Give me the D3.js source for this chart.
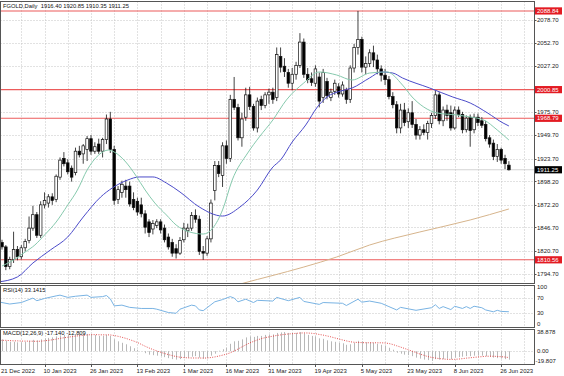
<!DOCTYPE html>
<html><head><meta charset="utf-8">
<script src="https://cdn.jsdelivr.net/npm/d3@7"></script>
<style>
html,body{margin:0;padding:0;background:#fff;}
svg{display:block;font-family:"Liberation Sans",Arial,sans-serif;}
text{white-space:pre;}
</style></head><body>
<svg id="c" width="564" height="376"></svg>
<script>
// ---------------- DATA ----------------
const symbolTitle = "FGOLD,Daily  1916.40 1920.85 1910.35 1911.25";
const rsiTitle = "RSI(14) 33.1415";
const macdTitle = "MACD(12,26,9) -17.140 -12.809";
const startDate = "2022-12-21";
const holidays = ["2022-12-26", "2023-01-02", "2023-04-07"];

const open = [1817,1830,1825,1803,1811,1822,1814,1824,1832,1846,
1861,1838,1872,1874,1881,1878,1903,1924,1919,1913,
1908,1932,1929,1934,1946,1932,1940,1932,1945,1968,
1934,1878,1886,1893,1893,1878,1876,1872,1862,1853,
1845,1849,1853,1846,1836,1830,1823,1818,1833,1843,
1846,1860,1856,1820,1818,1834,1888,1916,1905,1938,
1924,1990,1981,1947,1970,1995,1982,1958,1990,1983,
1995,1998,1992,2038,2027,2020,2008,2018,2028,2054,
2018,2013,2008,2015,1992,2010,1992,1999,2004,1996,
2000,1990,2025,2048,2057,2026,2030,2042,2034,2024,
2017,2012,1993,1984,1958,1978,1965,1975,1962,1950,
1956,1953,1963,1972,1995,1966,1978,1975,1958,1978,
1973,1956,1970,1956,1970,1966,1962,1947,1941,1926,
1934,1924,1916.40];
const high = [1833,1833,1827,1814,1842,1826,1827,1834,1859,1871,
1864,1876,1886,1884,1885,1906,1925,1931,1923,1916,
1936,1938,1940,1949,1950,1942,1946,1947,1973,1976,
1938,1893,1899,1900,1898,1886,1880,1880,1866,1856,
1855,1856,1856,1850,1840,1834,1828,1836,1852,1851,
1864,1867,1860,1826,1837,1878,1921,1921,1942,1944,
1995,2015,1985,1975,2003,2004,1985,1992,1994,1998,
2002,2003,2048,2048,2036,2024,2025,2032,2064,2058,
2025,2020,2028,2020,2024,2014,2002,2012,2008,2010,
2003,2028,2052,2088.84,2060,2038,2046,2050,2040,2028,
2024,2016,1998,1988,1985,1986,1980,1988,1968,1960,
1962,1966,1975,2000,1998,1982,1984,1983,1982,1982,
1976,1972,1973,1974,1974,1970,1966,1950,1945,1940,
1936,1928,1920.85];
const low = [1815,1822,1799,1800,1807,1810,1811,1820,1829,1843,
1835,1835,1868,1869,1872,1875,1900,1915,1906,1898,
1905,1925,1918,1921,1928,1929,1929,1925,1940,1930,
1872,1873,1880,1880,1870,1866,1860,1858,1840,1836,
1839,1846,1840,1830,1822,1814,1812,1816,1830,1836,
1843,1852,1816,1810.56,1815,1830,1877,1903,1892,1918,
1920,1978,1944,1937,1966,1978,1955,1953,1978,1980,
1985,1985,1988,2020,2015,2003,2000,2012,2025,2014,
2008,2005,2004,1981,1986,1990,1988,1995,1992,1993,
1985,1986,2020,2040,2020,2018,2026,2026,2018,2010,
2006,1990,1980,1952,1952,1960,1958,1958,1945,1945,
1950,1945,1958,1968,1962,1960,1966,1955,1956,1970,
1952,1953,1937,1952,1960,1958,1943,1936,1922,1920,
1918,1912,1910.35];
const close = [1826,1825,1803,1811,1822,1814,1824,1831,1846,1861,
1838,1872,1877,1881,1877,1904,1922,1918,1909,1903,
1932,1928,1938,1946,1932,1937,1932,1945,1968,1934,
1877,1889,1895,1889,1873,1869,1864,1862,1847,1841,
1851,1853,1844,1833,1825,1818,1818,1832,1846,1846,
1860,1856,1820,1818,1834,1874,1916,1907,1938,1924,
1990,1981,1947,1968,1995,1982,1958,1988,1983,1995,
1998,1990,2040,2026,2021,2008,2018,2028,2054,2018,
2012,2009,2024,1988,2020,1994,1998,2008,1996,2006,
1990,2025,2048,2057,2026,2030,2042,2034,2024,2017,
2012,1993,1984,1958,1978,1964,1975,1962,1950,1956,
1953,1963,1972,1995,1966,1978,1972,1958,1978,1973,
1956,1969,1955,1970,1964,1961,1946,1940,1926,1934,
1922,1918,1911.25];

// moving averages: [bar index, price]
const maFast = [[1,1803.6],[4,1810.4],[7,1819.3],[9.5,1827.1],[12,1838.3],[15,1852.8],[18,1871.9],[20.5,1888.6],[23,1911],[26,1927.8],[28.5,1933.3],[30,1931.1],[33,1919.9],[35.5,1905.4],[38,1888.6],[40.5,1874.1],[43.5,1860.7],[46,1849.5],[49.5,1841.7],[53,1839.4],[55.5,1846.1],[58,1866.3],[60.5,1899.8],[64.5,1930],[67.5,1947.9],[71,1966.9],[74.5,1989.3],[79,2008.3],[83,2020.6],[87.5,2017.2],[91.5,2011.6],[96,2019.4],[100.5,2020.6],[104.5,2006],[107,1992.6],[110,1981.4],[113.5,1974.7],[118.5,1972.5],[122,1970.2],[125.5,1966.9],[129,1955.7],[132,1944.5]];
const maSlow = [[0,1785.8],[5,1791.4],[9,1807],[13.5,1821.5],[18,1836.1],[22,1858.4],[26.5,1880.8],[29.5,1890.9],[33.5,1899.8],[36.5,1903.2],[40,1903.2],[43.5,1896.4],[47,1886.4],[52,1869.6],[58,1859.5],[62.5,1869.6],[67,1888.6],[71,1914.3],[73,1922.2],[76,1942.3],[79.5,1961.3],[82.5,1981.4],[85,1992.6],[88.5,1999.3],[91.5,2002.7],[96,2013.9],[99,2020.6],[102,2019.4],[104.5,2013.9],[111.5,2002.7],[117.5,1992.6],[122,1985.9],[126.5,1974.7],[130.5,1963.5],[132,1960.2]];
const maLong = [[60,1780.2],[63.5,1784.6],[70.5,1792.5],[79,1802.5],[87.5,1813.7],[96,1827.1],[109,1841.7],[122,1855.1],[132,1867.4]];

// RSI(14): [bar index, value]
const rsi = [[0,60],[3,54],[6,58],[9,70],[10,63],[12,69],[15,76],[16,78],[18,72],[20,75],[23,78],[24,72],[27,74],[28,77],[29,68],[30,49],[32,51],[34,45],[37,42],[40,42],[41,40],[44,31],[46,29],[47,40],[50,51],[51,49],[52,38],[53,36],[55,52],[56,60],[58,66],[60,74],[61,70],[62,60],[64,67],[66,58],[67,64],[71,62],[72,72],[75,63],[78,72],[79,61],[83,53],[84,58],[89,56],[90,50],[93,67],[94,59],[96,62],[99,56],[101,47],[103,38],[104,45],[108,37],[112,44],[113,52],[114,42],[115,47],[117,39],[118,48],[120,42],[121,47],[122,42],[123,48],[125,44],[126,38],[128,33],[129,37],[130,34],[132,33.14]];

// MACD main (histogram) and signal, per bar
const macd = [25,24,21,19,19,18,18,19,21,23,
22,24,26,27,28,30,32,33,33,32,
34,34,34,35,34,33,31,31,33,31,
24,20,17,14,10,6,3,0,-4,-7,
-8,-9,-10,-12,-14,-16,-17,-16,-14,-13,
-11,-10,-13,-15,-14,-9,-5,1,4,7,
15,20,21,24,28,30,29,31,31,33,
34,34,37,38,38.878,37,37,37,38.5,36,
33,31,30,26,25,22,20,19,17,16,
13,14,17,21,20,18,18,17,15,13,
11,7,3,-3,-5,-7,-8,-10,-13,-15,
-17,-18,-19.807,-16,-17,-16,-15,-16,-13,-12,
-11,-10,-10,-9,-9,-9,-10,-11,-13,-14,
-15,-16,-17.14];
const macdSignal = [22,22,22,21.5,21,21,20.5,20.5,20.4,20.2,
20.0,20.3,21.1,22.0,23.1,24.4,25.9,27.2,28.3,29.4,
30.6,31.4,32.2,33.0,33.4,33.6,33.3,33.1,33.2,32.9,
31.8,30.2,28.2,26.0,23.4,20.7,17.6,13.9,10.0,6.6,
3.4,0.6,-2.1,-4.6,-6.8,-8.9,-10.8,-12.1,-12.9,-13.4,
-13.7,-13.7,-13.8,-13.9,-13.7,-12.8,-11.6,-9.9,-8.0,-6.0,
-3.2,0.4,4.4,8.7,12.8,16.7,19.8,22.8,25.4,27.4,
29.0,30.4,31.9,33.0,34.0,34.9,35.5,36.2,36.8,37.0,
36.9,36.3,35.4,33.9,32.6,30.9,29.1,26.9,24.8,22.9,
20.9,19.1,18.1,17.7,17.4,17.2,17.1,17.1,17.0,17.0,
16.7,15.6,13.6,11.0,8.4,5.7,2.9,0.1,-2.8,-5.7,
-8.3,-10.7,-12.5,-13.8,-14.9,-15.8,-16.3,-16.6,-16.4,-15.9,
-15.1,-14.0,-13.3,-12.4,-11.7,-11.0,-10.3,-10.1,-10.2,-10.6,
-11.1,-11.8,-12.809];

const priceTicks = ["2078.70","2052.70","2027.20","2001.20","1975.70","1949.70","1923.70","1898.20","1872.20","1846.70","1820.70","1794.70"];
const levelLines = [2088.84, 2000.85, 1968.79, 1810.56];
const levelLabels = ["2088.84", "2000.85", "1968.79", "1810.56"];
const lastPrice = 1911.25;
const lastPriceLabel = "1911.25";
const rsiTicks = ["100", "70", "30", "0"];
const rsiLevels = [70, 30];
const macdTicks = ["38.878", "0.00", "-19.807"];
const dateLabels = [["2022-12-21","21 Dec 2022"],["2023-01-10","10 Jan 2023"],["2023-01-26","26 Jan 2023"],["2023-02-13","13 Feb 2023"],["2023-03-01","1 Mar 2023"],["2023-03-16","16 Mar 2023"],["2023-03-31","31 Mar 2023"],["2023-04-19","19 Apr 2023"],["2023-05-05","5 May 2023"],["2023-05-23","23 May 2023"],["2023-06-08","8 Jun 2023"],["2023-06-26","26 Jun 2023"]];

// ---------------- BUILD ----------------
const N = close.length;
const iso = d3.utcFormat("%Y-%m-%d");
const dates = [];
for (let d = new Date(startDate + "T00:00:00Z"); dates.length < N; d = new Date(d.getTime() + 864e5)) {
  const wd = d.getUTCDay();
  if (wd === 0 || wd === 6 || holidays.includes(iso(d))) continue;
  dates.push(iso(d));
}
const idx = d3.range(N);

const svg = d3.select("#c");
const FS = 6;
const L = 0.5, R = 534.5;
const panels = {main: [1.5, 283.5], rsi: [285.5, 327.5], macd: [329.5, 364.5]};

const x = d3.scaleLinear().domain([0, N - 1]).range([-1.9, 508.9]);
const y = d3.scaleLinear().domain([1794.7, 2078.7]).range([274, 20]);
const yR = d3.scaleLinear().domain([0, 100]).range([324, 287]);
const yM = d3.scaleLinear().domain([-19.807, 38.878]).range([361, 332]);

const defs = svg.append("defs");
Object.entries(panels).forEach(([k, [t, b]]) => {
  defs.append("clipPath").attr("id", "clip-" + k).append("rect")
    .attr("x", L).attr("y", t).attr("width", R - L).attr("height", b - t);
});

// grid verticals (at label bars and midway)
const labelIdx = dateLabels.map(d => dates.indexOf(d[0]));
const gridIdx = [];
labelIdx.forEach((v, k) => {
  gridIdx.push(v);
  if (k < labelIdx.length - 1) gridIdx.push(Math.round((v + labelIdx[k + 1]) / 2));
});
gridIdx.push(labelIdx[labelIdx.length - 1] + 6);

const gridColor = "#c4c4c4";
Object.entries(panels).forEach(([k, [t, b]]) => {
  svg.append("g").attr("clip-path", `url(#clip-${k})`)
    .selectAll("line").data(gridIdx.filter(i => x(i) > 2)).join("line")
    .attr("x1", i => Math.round(x(i)) + 0.5).attr("x2", i => Math.round(x(i)) + 0.5)
    .attr("y1", t).attr("y2", b)
    .attr("stroke", gridColor).attr("stroke-width", 1).attr("stroke-dasharray", "1,2");
});
// horizontal grid
svg.append("g").selectAll("line").data(priceTicks).join("line")
  .attr("x1", L).attr("x2", R)
  .attr("y1", d => Math.round(y(+d)) + 0.5).attr("y2", d => Math.round(y(+d)) + 0.5)
  .attr("stroke", gridColor).attr("stroke-dasharray", "1,2");
svg.append("g").selectAll("line").data(rsiLevels).join("line")
  .attr("x1", L).attr("x2", R)
  .attr("y1", d => Math.round(yR(d)) + 0.5).attr("y2", d => Math.round(yR(d)) + 0.5)
  .attr("stroke", gridColor).attr("stroke-dasharray", "1,2");
svg.append("line").attr("x1", L).attr("x2", R)
  .attr("y1", Math.round(yM(0)) + 0.5).attr("y2", Math.round(yM(0)) + 0.5)
  .attr("stroke", gridColor).attr("stroke-dasharray", "1,2");

// main panel contents
const gm = svg.append("g").attr("clip-path", "url(#clip-main)");
gm.append("line").attr("x1", L).attr("x2", R)
  .attr("y1", y(lastPrice)).attr("y2", y(lastPrice))
  .attr("stroke", "#c8c8c8").attr("stroke-width", 0.8);
gm.selectAll("line.lvl").data(levelLines).join("line").attr("class", "lvl")
  .attr("x1", L).attr("x2", R).attr("y1", d => y(d)).attr("y2", d => y(d))
  .attr("stroke", "#ec5b5b").attr("stroke-width", 1.1);

// candles
gm.selectAll("line.wick").data(idx).join("line").attr("class", "wick")
  .attr("x1", i => x(i)).attr("x2", i => x(i))
  .attr("y1", i => y(high[i])).attr("y2", i => y(low[i]))
  .attr("stroke", "#111").attr("stroke-width", 0.8);
gm.selectAll("rect.body").data(idx).join("rect").attr("class", "body")
  .attr("x", i => x(i) - 1.3).attr("width", 2.6)
  .attr("y", i => y(Math.max(open[i], close[i])))
  .attr("height", i => Math.max(0.7, Math.abs(y(open[i]) - y(close[i]))))
  .attr("fill", i => close[i] >= open[i] ? "#fff" : "#000")
  .attr("stroke", "#111").attr("stroke-width", 0.7);

// moving averages
const maLine = d3.line().x(d => x(d[0])).y(d => y(d[1])).curve(d3.curveMonotoneX);
gm.append("path").attr("d", maLine(maLong)).attr("fill", "none").attr("stroke", "#d6b48c").attr("stroke-width", 1);
gm.append("path").attr("d", maLine(maSlow)).attr("fill", "none").attr("stroke", "#4b4bc9").attr("stroke-width", 1);
gm.append("path").attr("d", maLine(maFast)).attr("fill", "none").attr("stroke", "#86c9ad").attr("stroke-width", 1);

// RSI
const gr = svg.append("g").attr("clip-path", "url(#clip-rsi)");
gr.append("path").attr("d", d3.line().x(d => x(d[0])).y(d => yR(d[1]))(rsi))
  .attr("fill", "none").attr("stroke", "#79b3e3").attr("stroke-width", 1);

// MACD
const gd = svg.append("g").attr("clip-path", "url(#clip-macd)");
gd.selectAll("line").data(idx).join("line")
  .attr("x1", i => Math.round(x(i)) + 0.5).attr("x2", i => Math.round(x(i)) + 0.5)
  .attr("y1", yM(0)).attr("y2", i => yM(macd[i]))
  .attr("stroke", "#b8b8b8").attr("stroke-width", 1);
gd.append("path").attr("d", d3.line().x(i => x(i)).y(i => yM(macdSignal[i]))(idx))
  .attr("fill", "none").attr("stroke", "#e23b3b").attr("stroke-width", 0.9).attr("stroke-dasharray", "1,1.4");

// frames
Object.values(panels).forEach(([t, b]) => {
  svg.append("rect").attr("x", L).attr("y", t).attr("width", R - L).attr("height", b - t)
    .attr("fill", "none").attr("stroke", "#555").attr("stroke-width", 1);
});

// right axis labels
const axG = svg.append("g").attr("font-size", FS).attr("fill", "#222");
axG.selectAll("text.pt").data(priceTicks.filter(d => d !== "2001.20")).join("text")
  .attr("x", 537).attr("y", d => y(+d)).attr("dy", "0.35em").text(d => d);
axG.selectAll("line.tk").data(priceTicks).join("line")
  .attr("x1", R).attr("x2", R + 2).attr("y1", d => Math.round(y(+d)) + 0.5).attr("y2", d => Math.round(y(+d)) + 0.5)
  .attr("stroke", "#555");
levelLines.forEach((v, k) => {
  svg.append("rect").attr("x", 535).attr("y", y(v) - 3.6).attr("width", 27).attr("height", 7.2).attr("fill", "#e31b23");
  svg.append("text").attr("x", 537).attr("y", y(v)).attr("dy", "0.35em").attr("font-size", FS).attr("fill", "#fff").text(levelLabels[k]);
});
svg.append("rect").attr("x", 535).attr("y", y(lastPrice) - 3.6).attr("width", 27).attr("height", 7.2).attr("fill", "#000");
svg.append("text").attr("x", 537).attr("y", y(lastPrice)).attr("dy", "0.35em").attr("font-size", FS).attr("fill", "#fff").text(lastPriceLabel);

axG.selectAll("text.rt").data(rsiTicks).join("text")
  .attr("x", 537).attr("y", d => yR(+d)).attr("dy", "0.35em").text(d => d);
axG.selectAll("text.mt").data(macdTicks).join("text")
  .attr("x", d => d.startsWith("-") ? 535.5 : 537).attr("y", d => yM(+d)).attr("dy", "0.35em").text(d => d);

// date axis
dateLabels.forEach((d, k) => {
  const xi = x(labelIdx[k]);
  svg.append("line").attr("x1", Math.round(xi) + 0.5).attr("x2", Math.round(xi) + 0.5)
    .attr("y1", 364.5).attr("y2", 367).attr("stroke", "#555");
  svg.append("text").attr("x", Math.max(1, xi - 1)).attr("y", 370.5).attr("dy", "0.35em")
    .attr("font-size", FS).attr("fill", "#222").text(d[1]);
});

// titles
svg.append("text").attr("x", 3).attr("y", 6).attr("dy", "0.35em").attr("font-size", 5.8).attr("fill", "#111").text(symbolTitle);
svg.append("text").attr("x", 3).attr("y", 289.5).attr("dy", "0.35em").attr("font-size", 5.8).attr("fill", "#111").text(rsiTitle);
svg.append("text").attr("x", 3).attr("y", 333).attr("dy", "0.35em").attr("font-size", 5.8).attr("fill", "#111").text(macdTitle);
</script>
</body></html>
